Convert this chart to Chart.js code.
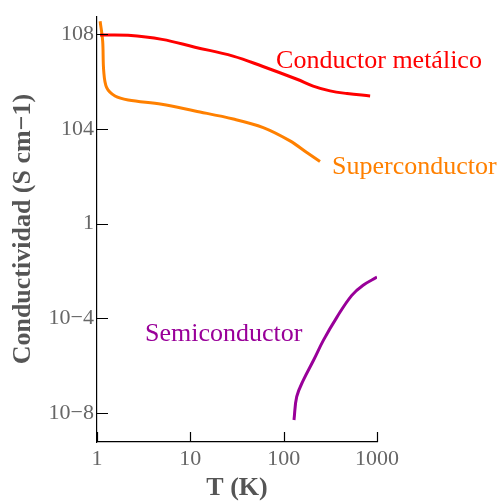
<!DOCTYPE html>
<html>
<head>
<meta charset="utf-8">
<script src="https://cdn.jsdelivr.net/npm/chart.js@4"></script>
<style>
  html, body { margin: 0; padding: 0; background: #fff; }
  #wrap { width: 503px; height: 501px; }
</style>
</head>
<body>
<div id="wrap"><canvas id="conductividad"></canvas></div>
<script>
// temperaturas (K) y conductividades (S/cm)
const metalT = [1.08, 2.15, 4.97, 11.2, 28.7, 60, 139, 207, 314, 478, 844];
const metalS = [9.2e7, 8.9e7, 6.0e7, 2.8e7, 1.18e7, 4.3e6, 1.24e6, 6.4e5, 4.0e5, 3.1e5, 2.45e5];

const superT = [1.08, 1.15, 1.18, 1.27, 1.56, 2.16, 4.94, 11.2, 28.9, 60.4, 117, 177, 245];
const superS = [3.5e8, 5.1e7, 2.8e6, 5.5e5, 2.45e5, 1.66e5, 1.1e5, 5.7e4, 2.6e4, 1.13e4, 3.1e3, 1.0e3, 4.2e2];

const semiT = [129, 138, 163, 209, 267, 371, 537, 710, 1000];
const semiS = [5.1e-9, 4.9e-8, 2.5e-7, 1.7e-6, 1.2e-5, 1.1e-4, 9.3e-4, 2.5e-3, 5.5e-3];

const xTickValues = [1, 10, 100, 1000];
const xTickLabels = ["1", "10", "100", "1000"];
const yTickValues = [1e-8, 1e-4, 1, 1e4, 1e8];
const yTickLabels = ["10−8", "10−4", "1", "104", "108"];

// etiquetas de cada curva: texto, T, sigma
const curveLabels = [
    { text: "Conductor metálico", x: 83, y: 3.7e6, color: "#ff0000" },
    { text: "Superconductor", x: 330, y: 1.3e2, color: "#ff8000" },
    { text: "Semiconductor", x: 3.27, y: 1.1e-5, color: "#990099" },
];

const toPoints = (xs, ys) => xs.map((x, i) => ({ x: x, y: ys[i] }));

const inwardTicks = {
    id: "inwardTicks",
    afterDraw(chart) {
        const ctx = chart.ctx;
        const xs = chart.scales.x;
        const ys = chart.scales.y;
        const area = chart.chartArea;
        ctx.save();
        ctx.strokeStyle = "#000";
        ctx.lineWidth = 1.2;
        ctx.beginPath();
        yTickValues.forEach(v => {
            const py = Math.round(ys.getPixelForValue(v)) + 0.5;
            ctx.moveTo(area.left, py);
            ctx.lineTo(area.left + 11, py);
        });
        xTickValues.forEach(v => {
            const px = Math.round(xs.getPixelForValue(v)) + 0.5;
            ctx.moveTo(px, area.bottom);
            ctx.lineTo(px, area.bottom - 10);
        });
        ctx.stroke();

        ctx.font = "26px 'Liberation Serif'";
        ctx.textAlign = "left";
        ctx.textBaseline = "alphabetic";
        curveLabels.forEach(l => {
            ctx.fillStyle = l.color;
            ctx.fillText(l.text, xs.getPixelForValue(l.x), ys.getPixelForValue(l.y));
        });
        ctx.restore();
    }
};

const config = {
    type: "line",
    data: {
        datasets: [
            {
                label: "Conductor metálico",
                data: toPoints(metalT, metalS),
                borderColor: "#ff0000",
            },
            {
                label: "Superconductor",
                data: toPoints(superT, superS),
                borderColor: "#ff8000",
                tension: 0.35,
            },
            {
                label: "Semiconductor",
                data: toPoints(semiT, semiS),
                borderColor: "#990099",
            },
        ],
    },
    options: {
        responsive: true,
        maintainAspectRatio: false,
        animation: false,
        layout: { padding: { top: 15, right: 126, left: 0, bottom: 0 } },
        elements: {
            point: { radius: 0 },
            line: { borderWidth: 3, tension: 0.4, fill: false, capStyle: "butt" },
        },
        plugins: {
            legend: { display: false },
            tooltip: { enabled: false },
        },
        scales: {
            x: {
                type: "logarithmic",
                min: 1,
                max: 1000,
                grid: { display: false, drawTicks: false },
                border: { display: true, color: "#000", width: 1.2 },
                afterBuildTicks: s => { s.ticks = xTickValues.map(v => ({ value: v })); },
                afterFit: s => { s.height = 59; },
                ticks: {
                    padding: 4,
                    maxRotation: 0,
                    autoSkip: false,
                    color: "#666",
                    font: { family: "'Liberation Serif'", size: 22 },
                    callback: v => xTickLabels[xTickValues.indexOf(v)],
                },
                title: {
                    display: true,
                    text: "T (K)",
                    color: "#555",
                    padding: { top: 0, bottom: 0 },
                    font: { family: "'Liberation Serif'", size: 26, weight: "bold", lineHeight: 1 },
                },
            },
            y: {
                type: "logarithmic",
                min: 6e-10,
                max: 5.7e8,
                grid: { display: false, drawTicks: false },
                border: { display: true, color: "#000", width: 1.2 },
                afterBuildTicks: s => { s.ticks = yTickValues.map(v => ({ value: v })); },
                afterFit: s => { s.width = 97; },
                ticks: {
                    padding: 3,
                    autoSkip: false,
                    color: "#666",
                    font: { family: "'Liberation Serif'", size: 22 },
                    callback: v => yTickLabels[yTickValues.indexOf(v)],
                },
                title: {
                    display: true,
                    text: "Conductividad (S cm−1)",
                    color: "#555",
                    padding: { top: 10, bottom: 0 },
                    font: { family: "'Liberation Serif'", size: 26, weight: "bold", lineHeight: 1 },
                },
            },
        },
    },
    plugins: [inwardTicks],
};

new Chart(document.getElementById("conductividad"), config);
</script>
</body>
</html>
